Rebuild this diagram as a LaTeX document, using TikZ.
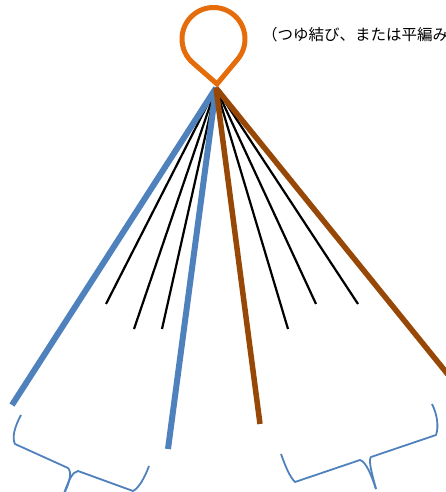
\documentclass[tikz,border=0pt]{standalone}
\usepackage{fontspec}
\newfontfamily\jpfont{Noto Sans CJK JP}
\usetikzlibrary{calc}
\definecolor{strandblue}{RGB}{79,129,189}
\definecolor{strandbrown}{RGB}{152,72,6}
\definecolor{looporange}{RGB}{228,108,10}
\tikzset{
  bluestrand/.style={draw=strandblue, line width=6pt},
  brownstrand/.style={draw=strandbrown, line width=5.5pt},
  thinstrand/.style={draw=black, line width=2.2pt},
  loopline/.style={draw=looporange, line width=5pt, line join=miter},
  bracket/.style={draw=strandblue, line width=1.8pt, line join=round},
}

\begin{document}
\begin{tikzpicture}[x=1pt, y=1pt]
  \useasboundingbox (0,0) rectangle (446,492);

  \coordinate (apex) at (216,404);
  \coordinate (tip) at (217,408);
  \coordinate (ctr) at (213.5,453);

  % thin strands
  \foreach \ex/\ey [count=\i] in {106/188, 134/163, 162/163, 288/163, 316/188, 358/188} {
    \coordinate (t\i) at (\ex,\ey);
    \draw[thinstrand] (apex) -- (t\i);
  }

  % thick strands
  \coordinate (b1) at (12,87);
  \coordinate (b2) at (168,43);
  \coordinate (r1) at (260,68);
  \coordinate (r2) at (454,110);
  \draw[bluestrand] (apex) -- (b1);
  \draw[bluestrand] (apex) -- (b2);
  \draw[brownstrand] (apex) -- (r1);
  \draw[brownstrand] (apex) -- (r2);

  % loop
  \draw[loopline] (tip) -- ([shift={(228.7:31.5)}]ctr) arc[start angle=228.7, end angle=-39.9, radius=31.5] -- cycle;

  \node[anchor=west, inner sep=0pt, font=\jpfont\fontsize{15.5}{18}\selectfont] (note) at (262,457) {（つゆ結び、または平編み};

  % brackets
  \draw[bracket] (21,77) .. controls (14,64) and (12,54) .. (15,48) -- (68,24) .. controls (72,20) and (70,10) .. (63,-4);
  \draw[bracket] (63,-4) .. controls (69,12) and (72,20) .. (78,21) -- (133,1) .. controls (139,4) and (145,15) .. (149,26);
  \draw[bracket] (281,38) .. controls (286,24) and (290,15) .. (295,10) -- (360,32) .. controls (366,30) and (371,18) .. (376,3);
  \draw[bracket] (376,3) .. controls (372,18) and (368,32) .. (371,35) -- (436,57) .. controls (439,66) and (437,78) .. (432,88);

\end{tikzpicture}
\end{document}
